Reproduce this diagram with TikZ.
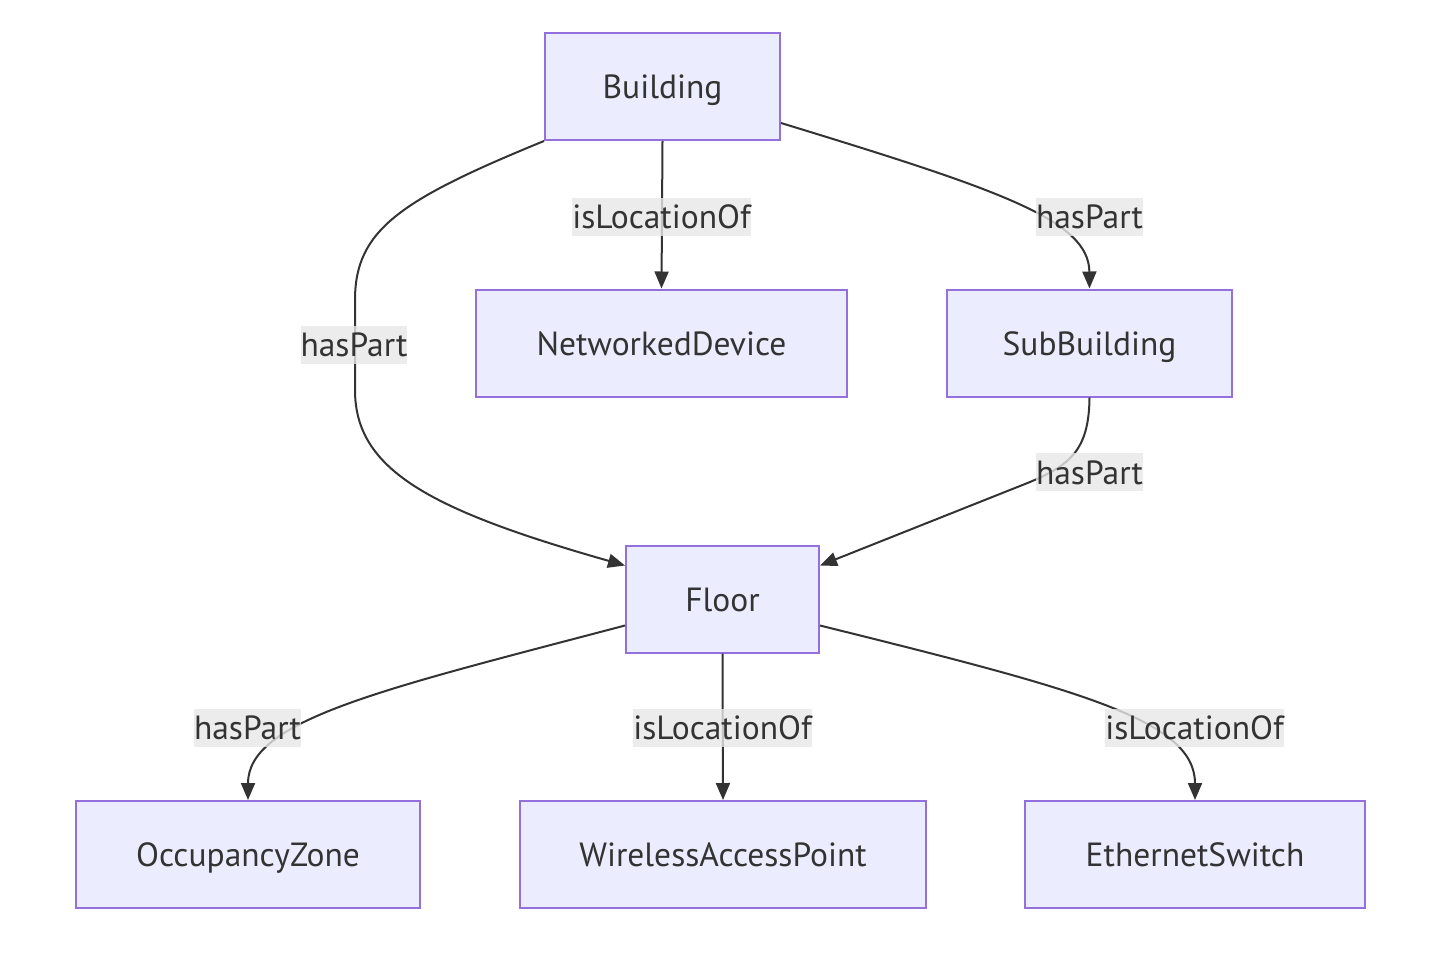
\documentclass[tikz,border=0pt]{standalone}
\usepackage{fontspec}
\setmainfont{PT Sans}
\usetikzlibrary{arrows.meta,calc}
\definecolor{nodefill}{HTML}{ECECFF}
\definecolor{nodeborder}{HTML}{9370DB}
\definecolor{edgecol}{HTML}{333333}
\definecolor{lblbg}{HTML}{E8E8E8}
\begin{document}
\begin{tikzpicture}[x=1pt,y=-1pt,
  font=\fontsize{33.5}{40}\selectfont,
  box/.style={draw=nodeborder, fill=nodefill, line width=2pt, text=edgecol, inner sep=0pt, minimum height=107pt, text height=28pt, text depth=4pt},
  lbl/.style={fill=lblbg, fill opacity=0.8, text opacity=1, text=edgecol, inner sep=0pt, minimum height=38pt, text height=28pt, text depth=4pt},
  edge/.style={draw=edgecol, line width=2pt, -{Triangle[length=17pt,width=14pt]}}]
\useasboundingbox (0,0) rectangle (1434,954);
\fill[white] (0,0) rectangle (1434,954);
% nodes
\node[box, minimum width=235pt] (b) at (662.5,86.5) {Building};
\node[box, minimum width=371pt] (nd) at (661.5,343) {NetworkedDevice};
\node[box, minimum width=285pt] (sb) at (1089.5,343) {SubBuilding};
\node[box, minimum width=193pt] (fl) at (722.5,599) {Floor};
\node[box, minimum width=344pt] (oz) at (248,854.5) {OccupancyZone};
\node[box, minimum width=406pt] (wap) at (723,854.5) {WirelessAccessPoint};
\node[box, minimum width=340pt] (es) at (1195,854.5) {EthernetSwitch};
% edges
\draw[edge] (b.south west) .. controls (400,200) and (355,230) .. (355,300) -- (355,390)
  .. controls (355,470) and (430,510) .. ($(fl.north west)+(0,21)$);
\draw[edge] (b.south) -- (nd.north);
\draw[edge] ($(b.south east)+(0,-18)$) .. controls (1000,190) and (1089,220) .. (sb.north);
\draw[edge] (sb.south) .. controls (1089,450) and (1070,465) .. (1030,482) -- ($(fl.north east)+(0,21)$);
\draw[edge] ($(fl.south west)+(0,-28)$) .. controls (380,690) and (248,720) .. (oz.north);
\draw[edge] (fl.south) -- (wap.north);
\draw[edge] ($(fl.south east)+(0,-28)$) .. controls (1080,690) and (1195,720) .. (es.north);
% labels
\node[lbl, minimum width=177pt] (l1) at (661.5,216.5) {isLocationOf};
\node[lbl, minimum width=105pt] (l2) at (1089.5,216.5) {hasPart};
\node[lbl, minimum width=104pt] (l3) at (354,344.5) {hasPart};
\node[lbl, minimum width=105pt] (l4) at (1089.5,472) {hasPart};
\node[lbl, minimum width=105pt] (l5) at (247.5,727.5) {hasPart};
\node[lbl, minimum width=177pt] (l6) at (722.5,727.5) {isLocationOf};
\node[lbl, minimum width=177pt] (l7) at (1194.5,727.5) {isLocationOf};
\end{tikzpicture}
\end{document}
